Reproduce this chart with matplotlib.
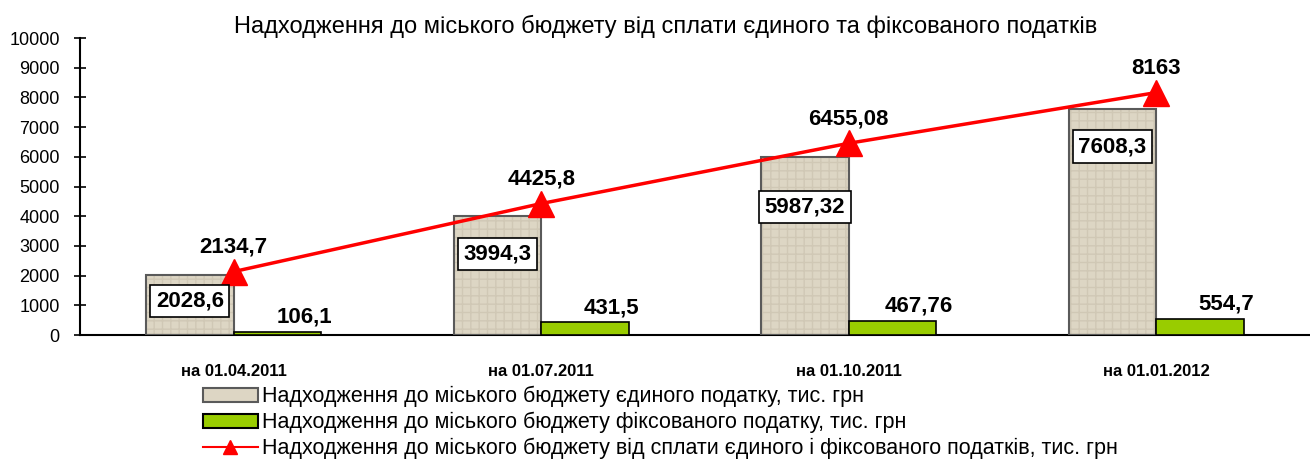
import matplotlib.pyplot as plt
import numpy as np

plt.rcParams['font.family'] = ['Liberation Sans', 'DejaVu Sans']

# Data
dates = ['на 01.04.2011', 'на 01.07.2011', 'на 01.10.2011', 'на 01.01.2012']
single_tax = [2028.6, 3994.3, 5987.32, 7608.3]
fixed_tax = [106.1, 431.5, 467.76, 554.7]
total_tax = [2134.7, 4425.8, 6455.08, 8163]

single_lbl = ['2028,6', '3994,3', '5987,32', '7608,3']
fixed_lbl = ['106,1', '431,5', '467,76', '554,7']
total_lbl = ['2134,7', '4425,8', '6455,08', '8163']

# label offsets (points) below top of beige bars
box_offsets = [-19, -27, -36, -27]

fig = plt.figure(figsize=(13.1, 4.61), dpi=100)
ax = fig.add_axes([80 / 1310, 126 / 461, 1230 / 1310, 297 / 461])

x = np.arange(len(dates))
w = 0.285

# beige textured bars
ax.bar(x - w / 2, single_tax, w, color='#ddd6c4', edgecolor='#d0c8b5',
       hatch='||--', linewidth=0, zorder=2)
ax.bar(x - w / 2, single_tax, w, color='none', edgecolor='#5a5a5a',
       linewidth=1.5, zorder=3)
ax.bar(x + w / 2, fixed_tax, w, color='#99cc00', edgecolor='black',
       linewidth=1.2, zorder=3)

ax.plot(x, total_tax, color='#ff0000', linewidth=2.5, marker='^',
        markersize=19, zorder=4)

for i in range(len(dates)):
    ax.annotate(single_lbl[i], (x[i] - w / 2, single_tax[i]),
                xytext=(0, box_offsets[i]), textcoords='offset points',
                ha='center', va='center', fontsize=16, fontweight='bold',
                bbox=dict(boxstyle='square,pad=0.25', facecolor='white',
                          edgecolor='black', linewidth=1.2), zorder=5)
    ax.annotate(fixed_lbl[i], (x[i] + w / 2, fixed_tax[i]),
                xytext=(19, 3), textcoords='offset points',
                ha='center', va='bottom', fontsize=16, fontweight='bold',
                zorder=5)
    ax.annotate(total_lbl[i], (x[i], total_tax[i]),
                xytext=(0, 10), textcoords='offset points',
                ha='center', va='bottom', fontsize=16, fontweight='bold',
                zorder=5)

ax.set_xlim(-0.5, 3.5)
ax.set_ylim(0, 10000)
ax.set_yticks(np.arange(0, 10001, 1000))
ax.tick_params(axis='y', direction='inout', length=9, width=1.2,
               labelsize=13, pad=10)
ax.set_xticks(x)
ax.set_xticklabels(dates, fontsize=12, fontweight='bold')
ax.tick_params(axis='x', length=0, pad=21)
for s in ['top', 'right']:
    ax.spines[s].set_visible(False)
for s in ['left', 'bottom']:
    ax.spines[s].set_linewidth(1.5)

fig.text(0.508, 0.942, 'Надходження до міського бюджету від сплати єдиного та фіксованого податків',
         ha='center', va='center', fontsize=17)

leg = fig.legend(
    [plt.Rectangle((0, 0), 1, 1, facecolor='#ddd6c4', edgecolor='#5a5a5a', linewidth=1.5),
     plt.Rectangle((0, 0), 1, 1, facecolor='#99cc00', edgecolor='black', linewidth=1.5),
     plt.Line2D([], [], color='#ff0000', linewidth=1.5, marker='^', markersize=10)],
    ['Надходження до міського бюджету єдиного податку, тис. грн',
     'Надходження до міського бюджету фіксованого податку, тис. грн',
     'Надходження до міського бюджету від сплати єдиного і фіксованого податків, тис. грн'],
    loc='upper left', bbox_to_anchor=(203 / 1310, 75 / 461), frameon=False,
    fontsize=15.5, handlelength=2.55, handleheight=0.6, handletextpad=0.2,
    labelspacing=0.22, borderpad=0, borderaxespad=0)

plt.savefig('out.png', dpi=100)
